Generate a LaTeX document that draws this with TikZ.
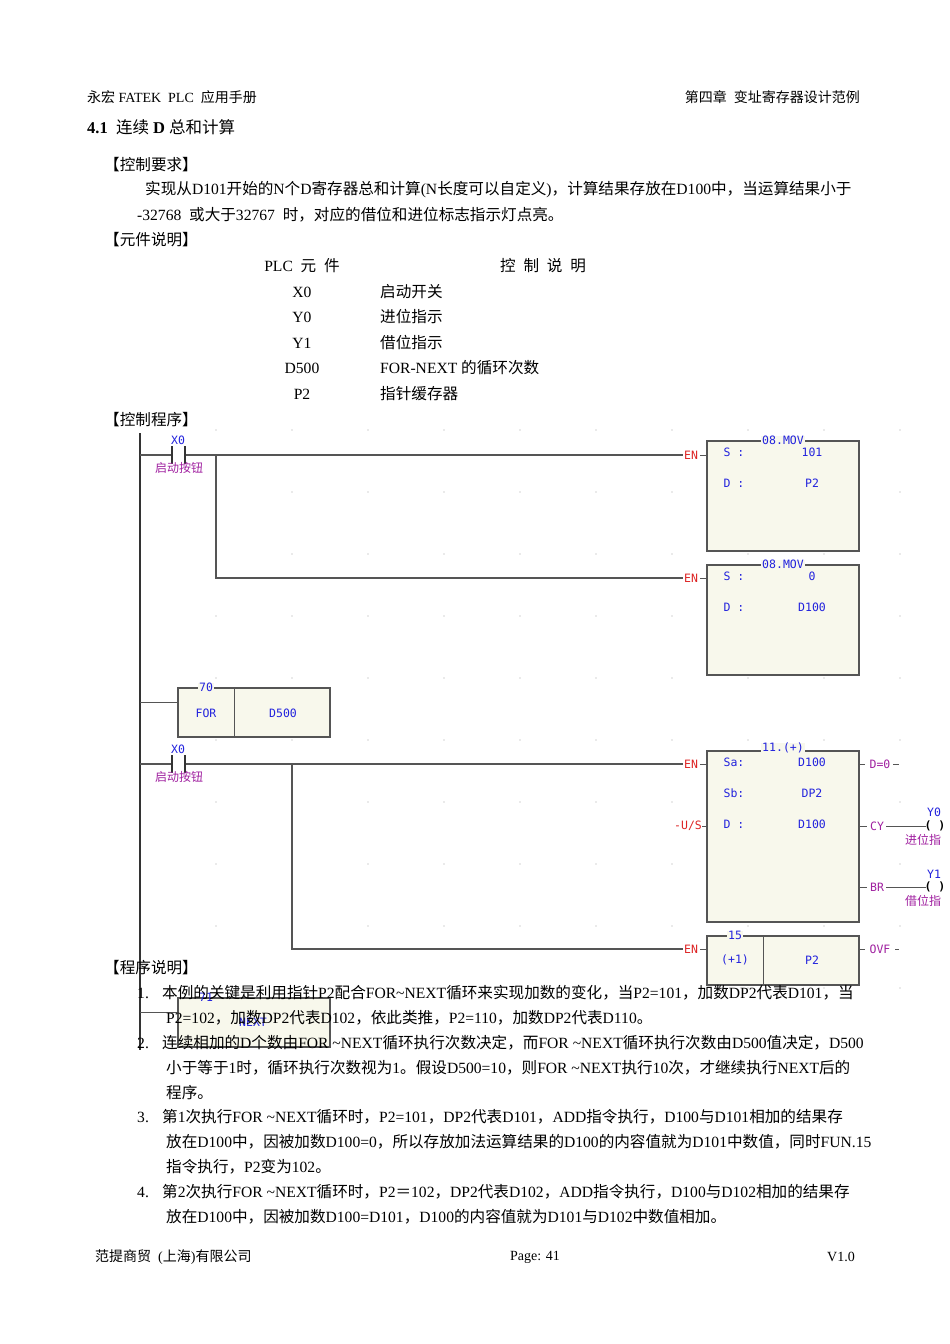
\documentclass[tikz,border=0pt]{standalone}
\usepackage{fontspec}
\setmainfont{Liberation Serif}
\newfontfamily\cjk{Noto Sans CJK SC}
\newfontfamily\lad{DejaVu Sans Mono}
\XeTeXinterchartokenstate=1
\newXeTeXintercharclass\CJKcls
\makeatletter
\def\setcls#1#2{\count255=#1\relax\loop\XeTeXcharclass\count255=\CJKcls\relax\ifnum\count255<#2\relax\advance\count255 by 1\repeat}
\makeatother
\setcls{"4E00}{"9FFF}
\setcls{"3000}{"303F}
\setcls{"FF00}{"FFEF}
\XeTeXinterchartoks 0 \CJKcls = {\begingroup\cjk}
\XeTeXinterchartoks 4095 \CJKcls = {\begingroup\cjk}
\XeTeXinterchartoks \CJKcls 0 = {\endgroup}
\XeTeXinterchartoks \CJKcls 4095 = {\endgroup}
\definecolor{lblue}{HTML}{2222DD}
\definecolor{lred}{HTML}{DD2222}
\definecolor{lpur}{HTML}{A020A0}
\definecolor{lbox}{HTML}{F8F8EC}
\definecolor{lline}{HTML}{555555}
\begin{document}
\begin{tikzpicture}[x=1pt,y=-1pt,
  txt/.style={anchor=west,inner sep=0pt,font=\fontsize{15.6}{17}\selectfont},
  hd/.style={anchor=west,inner sep=0pt,font=\fontsize{14}{16}\selectfont},
  lw/.style={draw=lline,line width=1.3pt},
  fbox/.style={draw=lline,line width=1.2pt,fill=lbox},
  bl/.style={inner sep=0pt,text=lblue,font=\lad\fontsize{11.5}{12}\selectfont},
  rd/.style={inner sep=0pt,text=lred,font=\lad\fontsize{11.5}{12}\selectfont},
  pu/.style={inner sep=0pt,text=lpur,font=\lad\fontsize{11.5}{12}\selectfont},
  pucj/.style={inner sep=0pt,text=lpur,font=\cjk\fontsize{12}{13}\selectfont}]
\useasboundingbox[fill=white] (0,0) rectangle (950,1344);
% header
\node[hd] (h1) at (87,97) {永宏 FATEK\ \ PLC\ \ 应用手册};
\node[hd,anchor=east] (h2) at (860,97) {第四章\ \ 变址寄存器设计范例};
\node[txt,font=\fontsize{16.5}{18}\selectfont] (t41) at (87,127) {\textbf{4.1}\ \ 连续 \textbf{D} 总和计算};
\node[txt] (k1) at (104,165) {【控制要求】};
\node[txt] (p1) at (145,190) {实现从D101开始的N个D寄存器总和计算(N长度可以自定义)，计算结果存放在D100中，当运算结果小于};
\node[txt] (p2) at (137,215) {-32768\ \ 或大于32767\ \ 时，对应的借位和进位标志指示灯点亮。};
\node[txt] (k2) at (104,240) {【元件说明】};
\node[txt,anchor=center] (c1) at (302,266) {PLC\ \ 元\ \ 件};
\node[txt,anchor=center] (c2) at (543,266) {控\ \ 制\ \ 说\ \ 明};
\foreach \a/\b/\y [count=\i] in {X0/启动开关/292,Y0/进位指示/317,Y1/借位指示/343,D500/FOR-NEXT 的循环次数/368,P2/指针缓存器/394}{
  \node[txt,anchor=center] (ta\i) at (302,\y) {\a};
  \node[txt] (tb\i) at (380,\y) {\b};
}
\node[txt] (k3) at (104,420) {【控制程序】};
% grid dots
\foreach \i in {1,...,10}{\foreach \j in {0,...,9}{
  \fill[gray!70] (140+76*\i,430+62*\j) circle (0.6pt);}}
% rail
\draw[line width=1.6pt,black!80] (140,433) -- (140,1050);
% rung 1
\coordinate (r1a) at (140,455);
\coordinate (c1l) at (172,455);
\coordinate (c1r) at (185,455);
\coordinate (e1) at (683,455);
\draw[lw] (r1a) -- (c1l); \draw[lw] (c1r) -- (e1);
\draw[line width=1.3pt,black!80] (172,446) -- (172,464) (185,446) -- (185,464);
\node[bl] (x0a) at (178,440) {X0};
\node[pucj] (lb1) at (179,468) {启动按钮};
\coordinate (b1) at (216,455);
\coordinate (e2) at (683,578);
\draw[lw] (b1) |- (e2);
% MOV boxes
\draw[fbox] (707,441) rectangle (859,551);
\draw[fbox] (707,565) rectangle (859,675);
\node[bl,fill=lbox,inner xsep=1pt] (m1) at (783,440) {08.MOV};
\node[bl,fill=lbox,inner xsep=1pt] (m2) at (783,564) {08.MOV};
\node[rd] (en1) at (691,455) {EN}; \draw[lw,line width=1pt] (700,455) -- (707,455);
\node[rd] (en2) at (691,578) {EN}; \draw[lw,line width=1pt] (700,578) -- (707,578);
\node[bl] at (734,452) {S :}; \node[bl] at (812,452) {101};
\node[bl] at (734,483) {D :}; \node[bl] at (812,483) {P2};
\node[bl] at (734,576) {S :}; \node[bl] at (812,576) {0};
\node[bl] at (734,607) {D :}; \node[bl] at (812,607) {D100};
% FOR
\coordinate (rf) at (140,702);
\draw[fbox] (178,688) rectangle (330,737);
\draw[lw,line width=1pt] (234,688) -- (234,737);
\draw[lw,line width=1pt] (rf) -- (178,702);
\node[bl,fill=lbox,inner xsep=1pt] (n70) at (206,687) {70};
\node[bl] (for) at (206,713) {FOR};
\node[bl] (d500) at (283,713) {D500};
% rung 3
\coordinate (r3a) at (140,764);
\draw[lw] (r3a) -- (172,764); \draw[lw] (185,764) -- (683,764);
\draw[line width=1.3pt,black!80] (172,755) -- (172,773) (185,755) -- (185,773);
\node[bl] (x0b) at (178,749) {X0};
\node[pucj] (lb2) at (179,777) {启动按钮};
\draw[lw] (292,764) |- (683,949);
% ADD box
\draw[fbox] (707,751) rectangle (859,922);
\node[bl,fill=lbox,inner xsep=1pt] (add) at (783,748) {11.(+)};
\node[rd] (en3) at (691,764) {EN}; \draw[lw,line width=1pt] (700,764) -- (707,764);
\node[rd] (us) at (688,826) {-U/S}; \draw[lw,line width=1pt] (702,826) -- (707,826);
\node[bl] at (734,762) {Sa:}; \node[bl] at (812,762) {D100};
\node[bl] at (734,793) {Sb:}; \node[bl] at (812,793) {DP2};
\node[bl] at (734,824) {D :}; \node[bl] at (812,824) {D100};
\draw[lw,line width=1pt] (859,764) -- (865,764);
\node[pu] (dz) at (880,764) {D=0};
\draw[lw,line width=1pt] (893,764) -- (899,764);
\draw[lw,line width=1pt] (859,826) -- (867,826);
\node[pu] (cy) at (877,826) {CY};
\draw[lw,line width=1pt] (886,826) -- (926,826);
\node[inner sep=0pt,font=\lad\bfseries\fontsize{11.5}{12}\selectfont] (co1) at (935,826) {( )};
\node[bl] (y0) at (934,812) {Y0};
\node[pucj,anchor=west] (l3) at (905,840) {进位指};
\draw[lw,line width=1pt] (859,887) -- (867,887);
\node[pu] (br) at (877,887) {BR};
\draw[lw,line width=1pt] (886,887) -- (926,887);
\node[inner sep=0pt,font=\lad\bfseries\fontsize{11.5}{12}\selectfont] (co2) at (935,887) {( )};
\node[bl] (y1) at (934,874) {Y1};
\node[pucj,anchor=west] (l4) at (905,901) {借位指};
% +1 box
\draw[fbox] (707,936) rectangle (859,985);
\draw[lw,line width=1pt] (763,936) -- (763,985);
\node[bl,fill=lbox,inner xsep=1pt] (n15) at (735,935) {15};
\node[bl] at (735,960) {(+1)};
\node[bl] at (812,960) {P2};
\node[rd] (en4) at (691,949) {EN}; \draw[lw,line width=1pt] (700,949) -- (707,949);
\draw[lw,line width=1pt] (859,949) -- (865,949);
\node[pu] (ovf) at (880,949) {OVF};
\draw[lw,line width=1pt] (895,949) -- (899,949);
% NEXT box
\draw[fbox] (178,998) rectangle (330,1047);
\draw[lw,line width=1pt] (140,1012) -- (178,1012);
\node[bl] (n71) at (206,997) {71};
\node[bl] (next) at (253,1022) {NEXT};
% program description
\node[txt] (k4) at (104,968) {【程序说明】};
\node[txt] at (137,993) {1.};
\node[txt] at (162,993) {本例的关键是利用指针P2配合FOR\textasciitilde NEXT循环来实现加数的变化，当P2=101，加数DP2代表D101，当};
\node[txt] at (166,1018) {P2=102，加数DP2代表D102，依此类推，P2=110，加数DP2代表D110。};
\node[txt] at (137,1043) {2.};
\node[txt] at (162,1043) {连续相加的D个数由FOR \textasciitilde NEXT循环执行次数决定，而FOR \textasciitilde NEXT循环执行次数由D500值决定，D500};
\node[txt] at (166,1068) {小于等于1时，循环执行次数视为1。假设D500=10，则FOR \textasciitilde NEXT执行10次，才继续执行NEXT后的};
\node[txt] at (166,1093) {程序。};
\node[txt] at (137,1117) {3.};
\node[txt] at (162,1117) {第1次执行FOR \textasciitilde NEXT循环时，P2=101，DP2代表D101，ADD指令执行，D100与D101相加的结果存};
\node[txt] at (166,1142) {放在D100中，因被加数D100=0，所以存放加法运算结果的D100的内容值就为D101中数值，同时FUN.15};
\node[txt] at (166,1167) {指令执行，P2变为102。};
\node[txt] at (137,1192) {4.};
\node[txt] at (162,1192) {第2次执行FOR \textasciitilde NEXT循环时，P2＝102，DP2代表D102，ADD指令执行，D100与D102相加的结果存};
\node[txt] at (166,1217) {放在D100中，因被加数D100=D101，D100的内容值就为D101与D102中数值相加。};
% footer
\node[hd] (f1) at (95,1257) {范提商贸\ \ (上海)有限公司};
\node[hd,anchor=center] (f2) at (535,1257) {Page: 41};
\node[hd,anchor=east] (f3) at (855,1257) {V1.0};
\end{tikzpicture}
\end{document}
